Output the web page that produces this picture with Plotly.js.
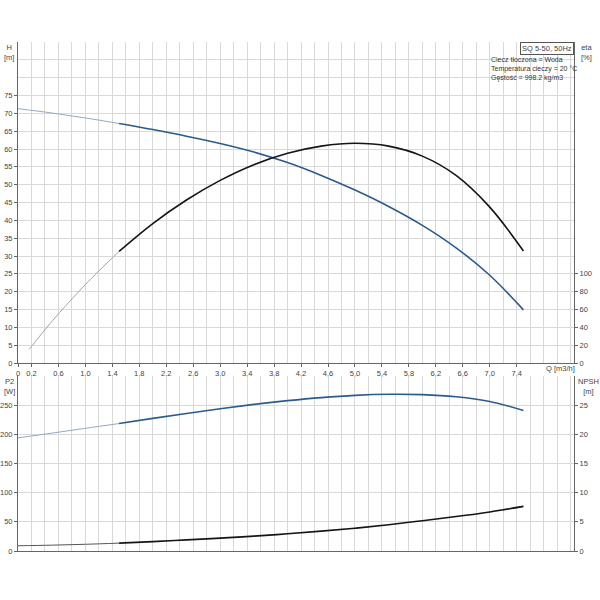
<!DOCTYPE html>
<html><head><meta charset="utf-8">
<script src="https://cdn.plot.ly/plotly-3.0.1.min.js"></script>
<style>html,body{margin:0;padding:0;background:#fff}#c{width:600px;height:600px}</style>
</head><body><div id="c"></div>
<script>
// Flow Q [m3/h]
const qThin = [0, 0.5, 1.0, 1.5];
const qMain = [1.5, 2.0, 2.5, 3.0, 3.5, 4.0, 4.5, 5.0, 5.5, 6.0, 6.5, 7.0, 7.5];
// Head H [m]
const hThin = [71.3, 70.1, 68.7, 67.15];
const hMain = [67.15, 65.45, 63.6, 61.55, 59.15, 56.2, 52.6, 48.5, 43.9, 38.6, 32.3, 24.6, 14.9];
// Efficiency eta [%] (drawn on the head scale as in the original)
const qEtaThin = [0.165, 0.5, 1.0, 1.5];
const etaThin = [3.8, 11.6, 22.0, 31.3];
const etaMain = [31.3, 39.1, 45.7, 51.2, 55.6, 58.8, 60.8, 61.6, 60.8, 58.0, 52.6, 43.7, 31.4];
// Power P2 [W]
const p2Thin = [194, 202, 210.3, 218.5];
const p2Main = [218.5, 227.3, 235.8, 243.9, 251.3, 257.7, 263.0, 266.8, 268.6, 268.0, 264.4, 256.3, 241.0];
// NPSH [m]
const npshThin = [0.9, 1.0, 1.15, 1.35];
const npshMain = [1.35, 1.6, 1.9, 2.2, 2.55, 2.95, 3.4, 3.9, 4.5, 5.2, 5.9, 6.7, 7.65];

// Tick labels
const xTickVals = [0, 0.2, 0.6, 1.0, 1.4, 1.8, 2.2, 2.6, 3.0, 3.4, 3.8, 4.2, 4.6, 5.0, 5.4, 5.8, 6.2, 6.6, 7.0, 7.4];
const xTickText = xTickVals.map(v => v === 0 ? '0' : v.toFixed(1).replace('.', ','));
const hTicks = [0,5,10,15,20,25,30,35,40,45,50,55,60,65,70,75];
const etaTicks = [0,20,40,60,80,100];
const p2Ticks = [0,50,100,150,200,250];
const npshTicks = [0,5,10,15,20,25];
const infoLines = ['Ciecz tłoczona = Woda', 'Temperatura cieczy = 20 °C', 'Gęstość = 998.2 kg/m3'];

const BLUE = '#2a5b8d', BLUE_THIN = '#95a9c2', BLACK = '#151515', GRAY_THIN = '#a5a5a5';
const GRID = '#d9d9d9', AX = '#666', TXT = '#444';
const F = {family: 'Liberation Sans, Arial, sans-serif', size: 7.5, color: TXT};
const FI = {family: 'Liberation Sans, Arial, sans-serif', size: 7, color: '#333'};

const traces = [
  {x: qThin, y: hThin, xaxis: 'x', yaxis: 'y', mode: 'lines', line: {color: BLUE_THIN, width: 1, shape: 'spline'}},
  {x: qMain, y: hMain, xaxis: 'x', yaxis: 'y', mode: 'lines', line: {color: BLUE, width: 1.6, shape: 'spline'}},
  {x: qEtaThin, y: etaThin, xaxis: 'x', yaxis: 'y', mode: 'lines', line: {color: GRAY_THIN, width: 1, shape: 'spline'}},
  {x: qMain, y: etaMain, xaxis: 'x', yaxis: 'y', mode: 'lines', line: {color: BLACK, width: 1.6, shape: 'spline'}},
  {x: [], y: [], xaxis: 'x', yaxis: 'y2', mode: 'lines'},
  {x: qThin, y: p2Thin, xaxis: 'x2', yaxis: 'y3', mode: 'lines', line: {color: BLUE_THIN, width: 1, shape: 'spline'}},
  {x: qMain, y: p2Main, xaxis: 'x2', yaxis: 'y3', mode: 'lines', line: {color: BLUE, width: 1.6, shape: 'spline'}},
  {x: qThin, y: npshThin, xaxis: 'x2', yaxis: 'y4', mode: 'lines', line: {color: '#555', width: 1, shape: 'spline'}},
  {x: qMain, y: npshMain, xaxis: 'x2', yaxis: 'y4', mode: 'lines', line: {color: BLACK, width: 1.6, shape: 'spline'}}
];

const W = 556, Hh = 509, L = 18, B = 551;
const px = v => (v - L) / W;
const py = v => (B - v) / Hh;

const xCommon = {
  range: [0, 8.25], showgrid: true, gridcolor: GRID, gridwidth: 1,
  minor: {dtick: 0.2, tick0: 0, showgrid: true, gridcolor: GRID, gridwidth: 1},
  showline: true, linecolor: AX, linewidth: 1, zeroline: false, fixedrange: true
};

const annotations = [
  {xref: 'paper', yref: 'paper', x: px(9), y: py(41), xanchor: 'center', yanchor: 'top', text: 'H<br>[m]', showarrow: false, font: F},
  {xref: 'paper', yref: 'paper', x: px(586), y: py(41), xanchor: 'center', yanchor: 'top', text: 'eta<br>[%]', showarrow: false, font: F},
  {xref: 'paper', yref: 'paper', x: px(9), y: py(375), xanchor: 'center', yanchor: 'top', text: 'P2<br>[W]', showarrow: false, font: F},
  {xref: 'paper', yref: 'paper', x: px(588), y: py(375), xanchor: 'center', yanchor: 'top', text: 'NPSH<br>[m]', showarrow: false, font: F},
  {xref: 'paper', yref: 'paper', x: px(560), y: py(369), xanchor: 'center', yanchor: 'middle', text: 'Q [m3/h]', showarrow: false, font: F},
  {xref: 'paper', yref: 'paper', x: 1, y: 1, xanchor: 'right', yanchor: 'top', text: 'SQ 5-50, 50Hz', showarrow: false,
    font: F, bordercolor: '#555', borderwidth: 1, borderpad: 1, bgcolor: '#fff'},
  {xref: 'paper', yref: 'paper', x: px(489), y: py(54), xanchor: 'left', yanchor: 'top', align: 'left',
    text: infoLines.join('<br>'), showarrow: false, font: FI}
];

const layout = {
  width: 600, height: 600,
  margin: {l: L, r: 600 - L - W, t: B - Hh, b: 600 - B, pad: 0},
  paper_bgcolor: '#fff', plot_bgcolor: '#fff',
  showlegend: false, font: F,
  xaxis: Object.assign({}, xCommon, {
    anchor: 'y', tickmode: 'array', tickvals: xTickVals, ticktext: xTickText,
    ticks: 'outside', ticklen: 3, tickcolor: AX, tickfont: F
  }),
  yaxis: {
    domain: [py(363), 1], range: [0, 90], tickmode: 'array', tickvals: hTicks,
    showgrid: true, gridcolor: GRID, minor: {dtick: 5, tick0: 0, showgrid: true, gridcolor: GRID},
    showline: true, linecolor: AX, ticks: 'outside', ticklen: 3, tickcolor: AX, tickfont: F,
    zeroline: false, anchor: 'x'
  },
  yaxis2: {
    overlaying: 'y', side: 'right', anchor: 'x', range: [0, 360], tickmode: 'array', tickvals: etaTicks,
    showgrid: false, showline: true, linecolor: AX, ticks: 'outside', ticklen: 3, tickcolor: AX, tickfont: F,
    zeroline: false
  },
  xaxis2: Object.assign({}, xCommon, {
    anchor: 'y3', matches: 'x', showticklabels: false, ticks: '', tickmode: 'array', tickvals: xTickVals
  }),
  yaxis3: {
    domain: [0, py(376)], range: [0, 300], tickmode: 'array', tickvals: p2Ticks,
    showgrid: true, gridcolor: GRID, minor: {dtick: 50, tick0: 0, showgrid: true, gridcolor: GRID},
    showline: true, linecolor: AX, ticks: 'outside', ticklen: 3, tickcolor: AX, tickfont: F,
    zeroline: false, anchor: 'x2'
  },
  yaxis4: {
    overlaying: 'y3', side: 'right', anchor: 'x2', range: [0, 30], tickmode: 'array', tickvals: npshTicks,
    showgrid: false, showline: true, linecolor: AX, ticks: 'outside', ticklen: 3, tickcolor: AX, tickfont: F,
    zeroline: false
  },
  annotations: annotations
};

Plotly.newPlot('c', traces, layout, {staticPlot: true, displayModeBar: false});
</script></body></html>
